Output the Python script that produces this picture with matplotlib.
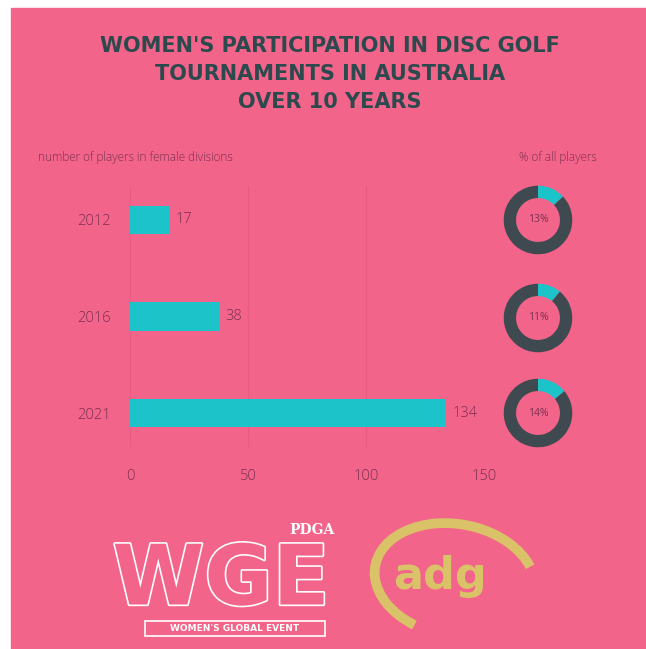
#!/usr/bin/env python3
"""Women's participation in disc golf tournaments in Australia - bars + donuts."""
import matplotlib
matplotlib.use("Agg")
import matplotlib.pyplot as plt
import matplotlib.patheffects as pe
from matplotlib.patches import Arc, Rectangle

years = ["2012", "2016", "2021"]
players = [17, 38, 134]
share_pct = [13, 11, 14]
x_ticks = [0, 50, 100, 150]

PINK = "#F3648A"
TEAL = "#1CC3C9"
DARK = "#3E4A50"
TITLE = "#2C4A4E"
LABEL = "#7A3050"
GOLD = "#D9C267"
LIGHT = "Open Sans"

W, H = 646, 649
fig = plt.figure(figsize=(W / 100, H / 100), dpi=100, facecolor="white")


def frac(x0, y0, w, h):
    """pixel box (top-left origin) -> figure fraction rect"""
    return [x0 / W, 1 - (y0 + h) / H, w / W, h / H]


# pink background + decorations in pixel coords
bg = fig.add_axes([0, 0, 1, 1])
bg.set_xlim(0, W)
bg.set_ylim(H, 0)
bg.axis("off")
bg.add_patch(Rectangle((11, 8), W - 11, H - 8, color=PINK, zorder=0))

title_lines = ["WOMEN'S PARTICIPATION IN DISC GOLF",
               "TOURNAMENTS IN AUSTRALIA",
               "OVER 10 YEARS"]
for i, line in enumerate(title_lines):
    bg.text(330, 46 + i * 28, line, ha="center", va="center",
            fontsize=15, fontweight="heavy", color=TITLE)

bg.text(38, 158, "number of players in female divisions", ha="left",
        va="center", fontsize=8.5, family=LIGHT, fontweight="light",
        color=LABEL)
bg.text(558, 158, "% of all players", ha="center", va="center",
        fontsize=8.5, family=LIGHT, fontweight="light", color=LABEL)

# --- bar chart ---
ax = fig.add_axes(frac(130, 186, 354, 261))
ax.set_facecolor("none")
pos = list(range(len(years)))
ax.barh(pos, players, height=0.29, color=TEAL, zorder=3)
ax.set_xlim(0, 150)
ax.set_ylim(2.35, -0.35)
for p, v in zip(pos, players):
    ax.text(v + 2.5, p, str(v), ha="left", va="center", fontsize=10.5,
            family=LIGHT, fontweight="light", color=LABEL)
ax.set_yticks(pos)
ax.set_yticklabels(years)
ax.set_xticks(x_ticks)
for lbl in ax.get_xticklabels() + ax.get_yticklabels():
    lbl.set_family(LIGHT)
    lbl.set_fontweight("light")
ax.tick_params(length=0, labelsize=10.5, labelcolor=LABEL)
ax.tick_params(axis="y", pad=14)
ax.tick_params(axis="x", pad=16)
ax.grid(axis="x", color="#E85A80", lw=0.8, zorder=0)
for s in ax.spines.values():
    s.set_visible(False)

# --- donuts ---
for yc, pct in zip([220, 318, 413], share_pct):
    dax = fig.add_axes(frac(538 - 36, yc - 36, 72, 72))
    dax.pie([pct, 100 - pct], colors=[TEAL, DARK], startangle=90,
            counterclock=False, radius=1.0,
            wedgeprops=dict(width=0.36, linewidth=0))
    dax.text(0, 0, f"{pct}%", ha="center", va="center", fontsize=7.5,
             family=LIGHT, color=LABEL)
    dax.set_xlim(-1.05, 1.05)
    dax.set_ylim(-1.05, 1.05)
    dax.set_aspect("equal")

# --- logos (text approximations) ---
outline = [pe.withStroke(linewidth=2.4, foreground="white")]
bg.text(221, 581, "WGE", ha="center", va="center", fontsize=60,
        fontweight="bold", color=PINK, path_effects=outline)
bg.text(312, 530, "PDGA", ha="center", va="center", fontsize=10,
        family="DejaVu Serif", fontweight="bold", color="white")
bg.add_patch(Rectangle((145, 621), 180, 15, facecolor="none",
                       edgecolor="white", lw=1.2))
bg.text(235, 628.5, "WOMEN'S GLOBAL EVENT", ha="center", va="center",
        fontsize=6.5, fontweight="bold", color="white")

# y axis is inverted here, so angles run clockwise on screen
bg.add_patch(Arc((455, 580), 162, 112, angle=10, theta1=122, theta2=340,
                 color=GOLD, lw=7))
bg.text(440, 576, "adg", ha="center", va="center", fontsize=32,
        fontweight="heavy", color=GOLD)

fig.savefig("out.png", dpi=100, facecolor="white")
